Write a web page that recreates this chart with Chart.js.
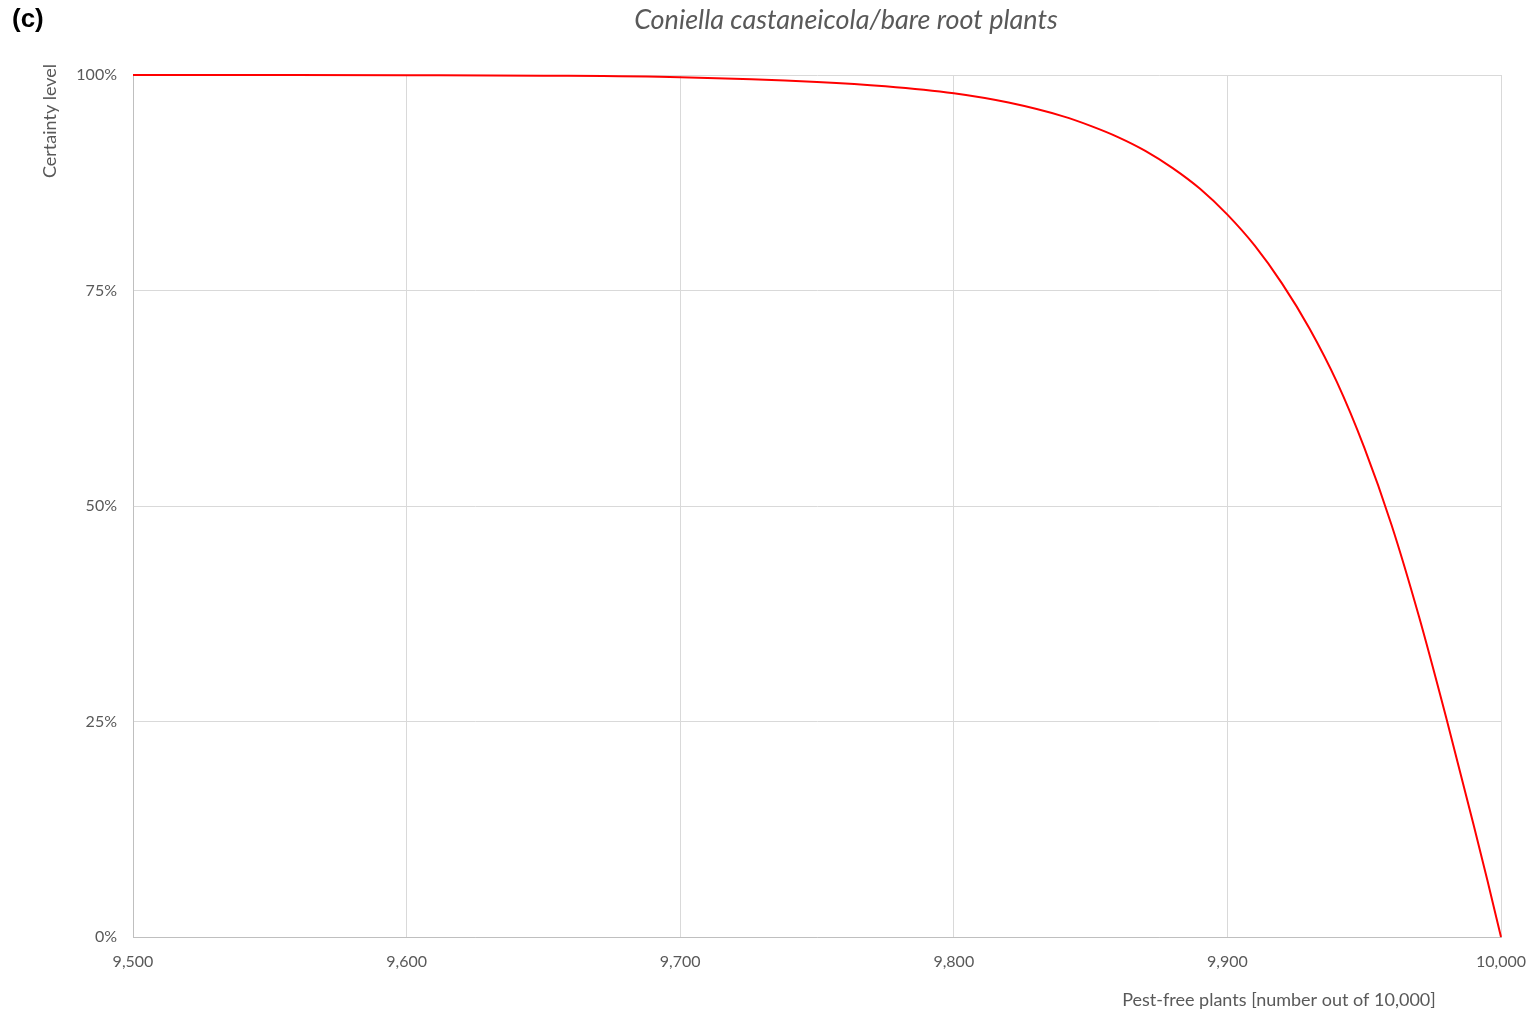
<!DOCTYPE html>
<html>
<head>
<meta charset="utf-8">
<script src="https://cdn.jsdelivr.net/npm/chart.js@4/dist/chart.umd.min.js"></script>
<style>
html,body{margin:0;padding:0;background:#fff;}
#wrap{position:relative;width:1531px;height:1012px;}
</style>
</head>
<body>
<div id="wrap"><canvas id="c" width="1531" height="1012"></canvas></div>
<script>
// Data
const pestFreePlants = [9500, 9550, 9600, 9650, 9700, 9750, 9775, 9800, 9820, 9840, 9850, 9860, 9870, 9880, 9890, 9900, 9910, 9920, 9930, 9940, 9950, 9960, 9970, 9980, 9990, 9995, 10000];
const certainty = [100, 99.99, 99.97, 99.92, 99.75, 99.2, 98.7, 97.88, 96.8, 95.2, 94.1, 92.8, 91.2, 89.2, 86.8, 83.8, 80.2, 75.8, 70.6, 64.4, 56.8, 47.8, 37.2, 25.4, 13.0, 6.6, 0];
const xTicks = [9500, 9600, 9700, 9800, 9900, 10000];
const yTicks = [0, 25, 50, 75, 100];
const panelLabel = '(c)';
const chartTitle = 'Coniella castaneicola/bare root plants';
const xTitle = 'Pest-free plants [number out of 10,000]';
const yTitle = 'Certainty level';

const FONT = 'Lato, "Open Sans", sans-serif';
const GRAY = '#595959';

const textPlugin = {
  id: 'texts',
  afterDraw(chart) {
    const ctx = chart.ctx;
    ctx.save();
    ctx.fillStyle = '#000';
    ctx.font = 'bold 26px "Liberation Sans", Arial, sans-serif';
    ctx.textAlign = 'left'; ctx.textBaseline = 'middle';
    ctx.fillText(panelLabel, 12, 20);
    ctx.fillStyle = GRAY;
    ctx.font = 'italic 27px ' + FONT;
    ctx.textAlign = 'center';
    ctx.fillText(chartTitle, 846, 20);
    ctx.font = '18px ' + FONT;
    ctx.fillText(xTitle, 1279, 1000);
    ctx.translate(50, 121);
    ctx.rotate(-Math.PI / 2);
    ctx.fillText(yTitle, 0, 0);
    ctx.restore();
  }
};

new Chart(document.getElementById('c'), {
  type: 'line',
  data: {
    datasets: [{
      data: pestFreePlants.map((x, i) => ({x: x, y: certainty[i]})),
      borderColor: '#ff0000',
      borderWidth: 2,
      pointRadius: 0,
      fill: false,
      clip: false,
      cubicInterpolationMode: 'monotone'
    }]
  },
  options: {
    responsive: false,
    animation: false,
    layout: {padding: {left: 0, top: 75, right: 30, bottom: 0}},
    plugins: {legend: {display: false}, tooltip: {enabled: false}, title: {display: false}},
    scales: {
      x: {
        type: 'linear', min: 9500, max: 10000,
        afterFit(s) { s.height = 75; s.paddingLeft = 0; s.paddingRight = 0; },
        afterBuildTicks(s) { s.ticks = xTicks.map(v => ({value: v})); },
        grid: {color: '#d9d9d9', lineWidth: 1, drawTicks: false},
        border: {color: '#bfbfbf', width: 1},
        ticks: {
          padding: 15, color: GRAY, font: {family: FONT, size: 16}, maxRotation: 0,
          callback: v => v.toLocaleString('en-US')
        }
      },
      y: {
        min: 0, max: 100,
        afterFit(s) { s.width = 133; s.paddingTop = 0; s.paddingBottom = 0; },
        afterBuildTicks(s) { s.ticks = yTicks.map(v => ({value: v})); },
        grid: {color: '#d9d9d9', lineWidth: 1, drawTicks: false},
        border: {color: '#bfbfbf', width: 1},
        ticks: {
          padding: 16, color: GRAY, font: {family: FONT, size: 16},
          callback: v => v + '%'
        }
      }
    }
  },
  plugins: [textPlugin]
});
</script>
</body>
</html>
